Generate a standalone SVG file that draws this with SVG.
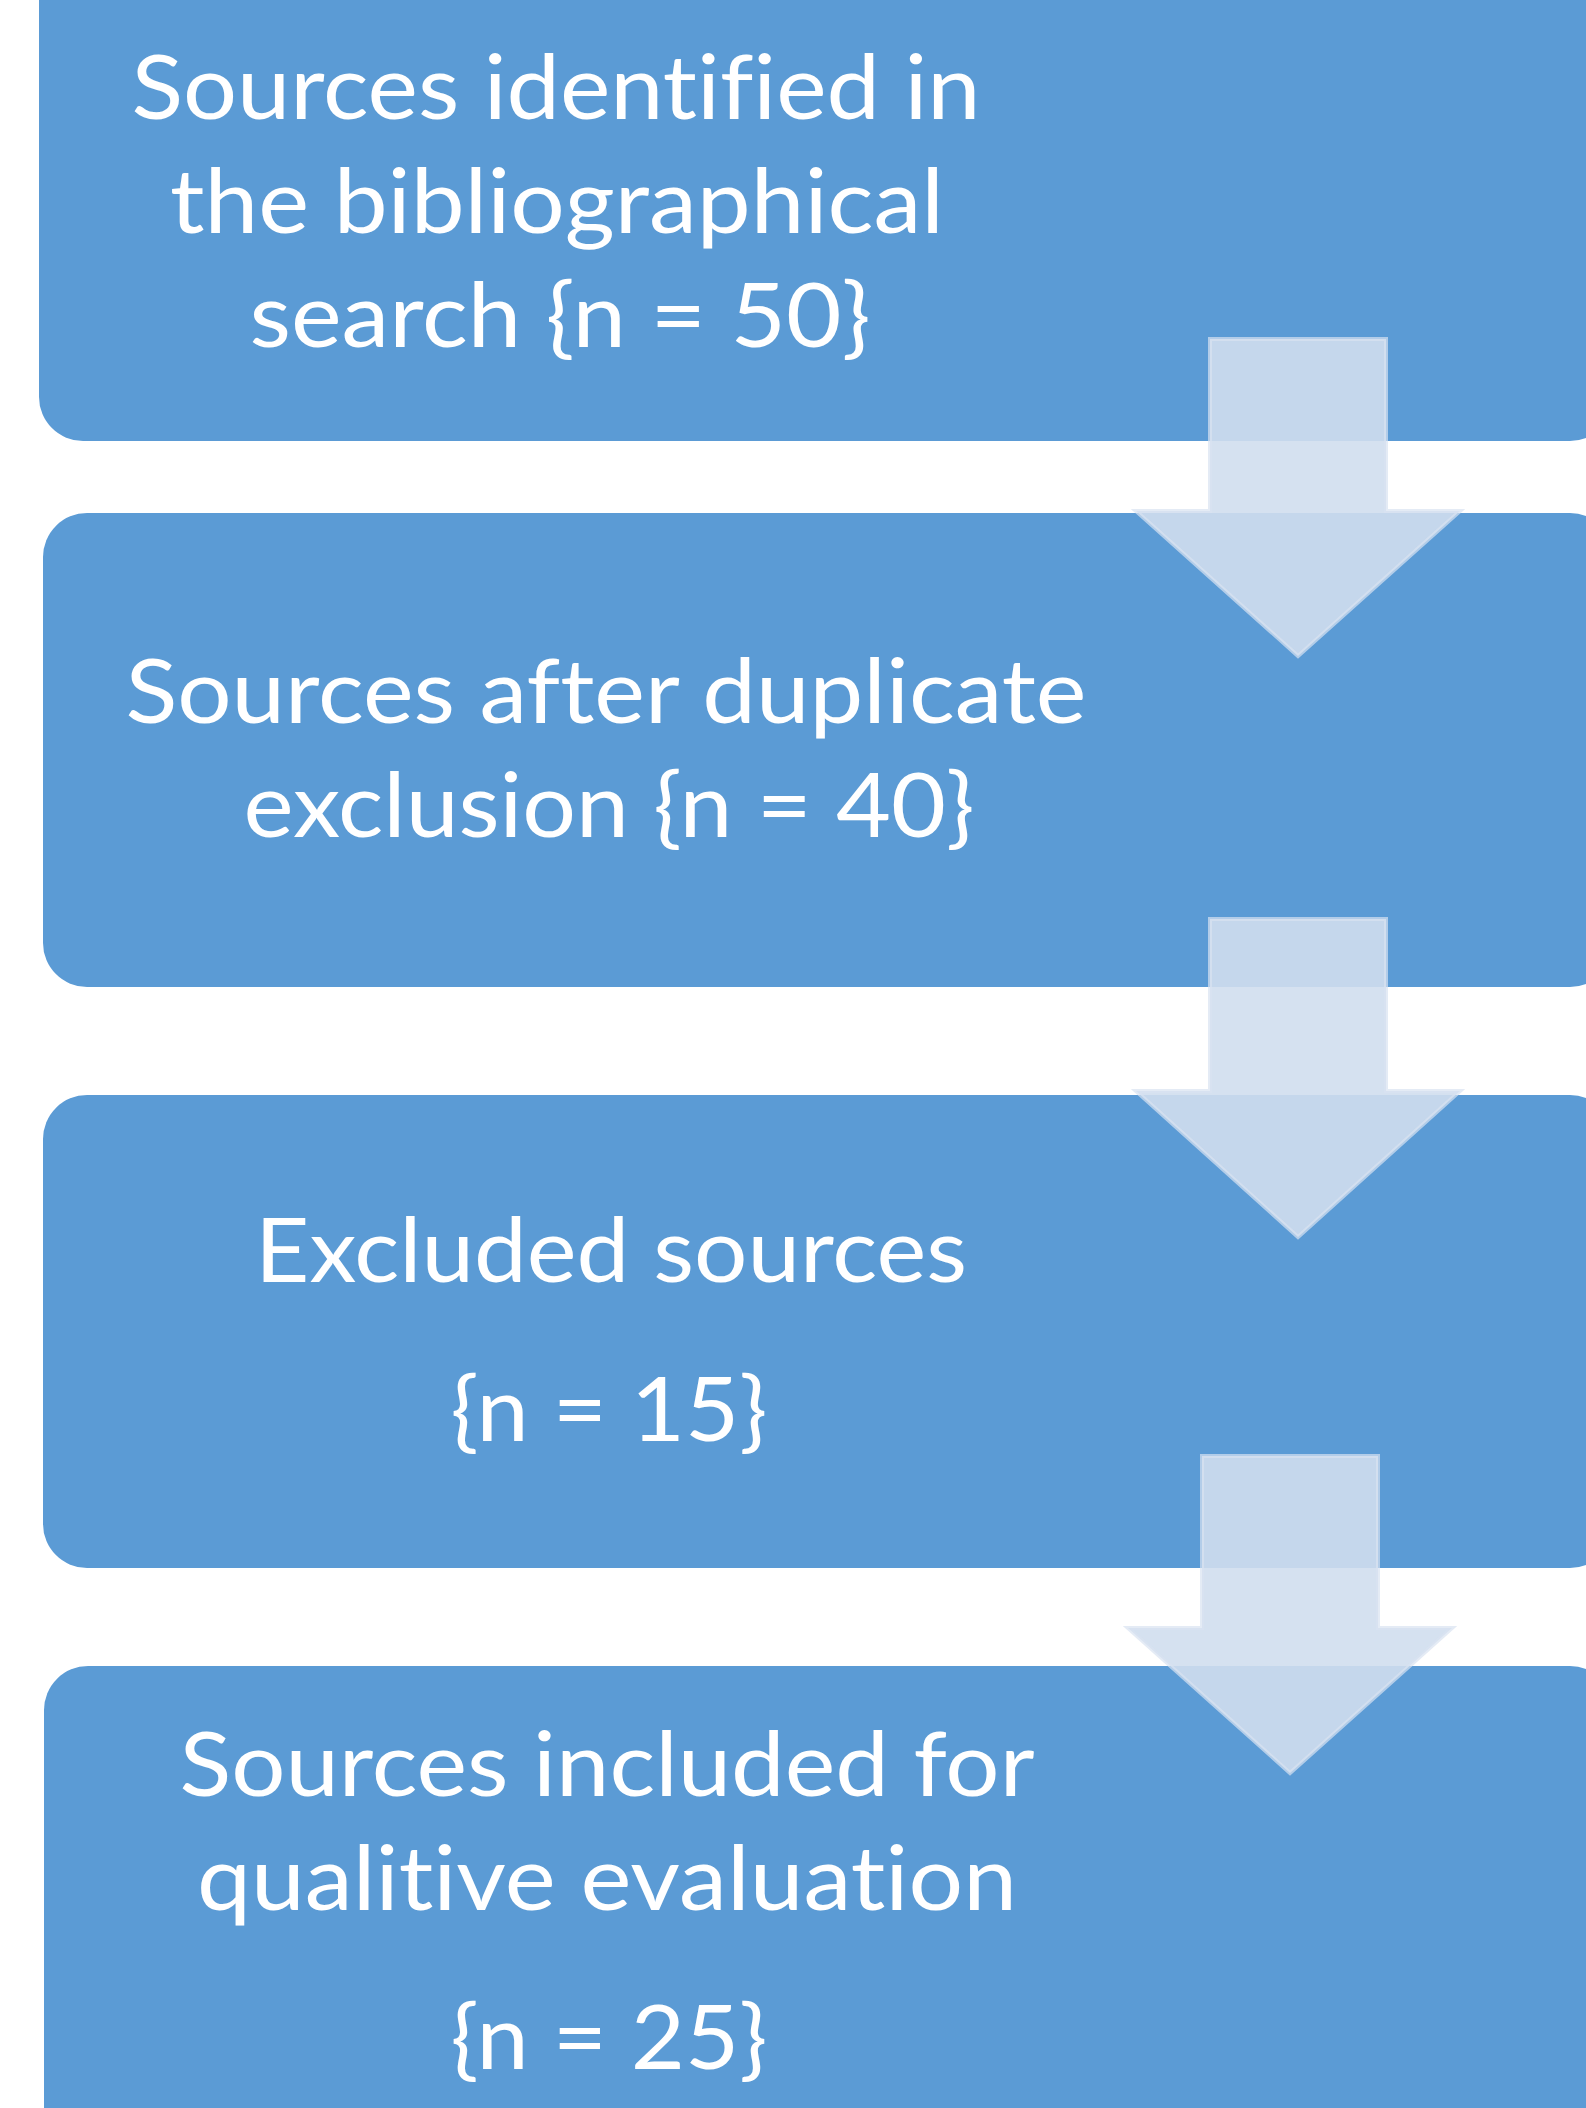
<svg xmlns="http://www.w3.org/2000/svg" width="1586" height="2108" viewBox="0 0 1586 2108">
<style>
.box{fill:#5B9BD5}
.lbl{font-family:Lato,"Open Sans","Liberation Sans",sans-serif;font-size:90px;fill:#FFFFFF;text-anchor:middle;font-variant-ligatures:none;font-feature-settings:"liga" 0,"dlig" 0}
.arrow{fill:#D0DEEE;fill-opacity:0.9;stroke:#D8E3F1;stroke-opacity:0.7;stroke-width:4;stroke-linejoin:miter}
</style>
<rect width="1586" height="2108" fill="#FFFFFF"/>
<g id="node1">
<rect class="box" x="39" y="-60" width="1575" height="501" rx="44" ry="44"/>
<text class="lbl" x="556" y="119" textLength="849" lengthAdjust="spacingAndGlyphs">Sources identified in</text>
<text class="lbl" x="557" y="233" textLength="774" lengthAdjust="spacingAndGlyphs">the bibliographical</text>
<text class="lbl" x="560" y="347" textLength="621" lengthAdjust="spacingAndGlyphs">search {n = 50}</text>
</g>
<g id="node2">
<rect class="box" x="43" y="513" width="1571" height="474" rx="44" ry="44"/>
<text class="lbl" x="606" y="723" textLength="961" lengthAdjust="spacingAndGlyphs">Sources after duplicate</text>
<text class="lbl" x="609" y="837" textLength="731" lengthAdjust="spacingAndGlyphs">exclusion {n = 40}</text>
</g>
<g id="node3">
<rect class="box" x="43" y="1095" width="1571" height="473" rx="44" ry="44"/>
<text class="lbl" x="611" y="1282" textLength="712" lengthAdjust="spacingAndGlyphs">Excluded sources</text>
<text class="lbl" x="609" y="1441" textLength="317" lengthAdjust="spacingAndGlyphs">{n = 15}</text>
</g>
<g id="node4">
<rect class="box" x="44" y="1666" width="1570" height="520" rx="44" ry="44"/>
<text class="lbl" x="607" y="1796" textLength="855" lengthAdjust="spacingAndGlyphs">Sources included for</text>
<text class="lbl" x="607" y="1910" textLength="820" lengthAdjust="spacingAndGlyphs">qualitive evaluation</text>
<text class="lbl" x="609" y="2069" textLength="317" lengthAdjust="spacingAndGlyphs">{n = 25}</text>
</g>
<g id="connectors">
<polygon class="arrow" points="1210,339 1386,339 1386,511 1460,511 1298,656 1136,511 1210,511"/>
<polygon class="arrow" points="1210,919 1386,919 1386,1091 1460,1091 1298,1237 1136,1091 1210,1091"/>
<polygon class="arrow" points="1202,1456 1378,1456 1378,1628 1452,1628 1290,1773 1128,1628 1202,1628"/>
</g>
</svg>
